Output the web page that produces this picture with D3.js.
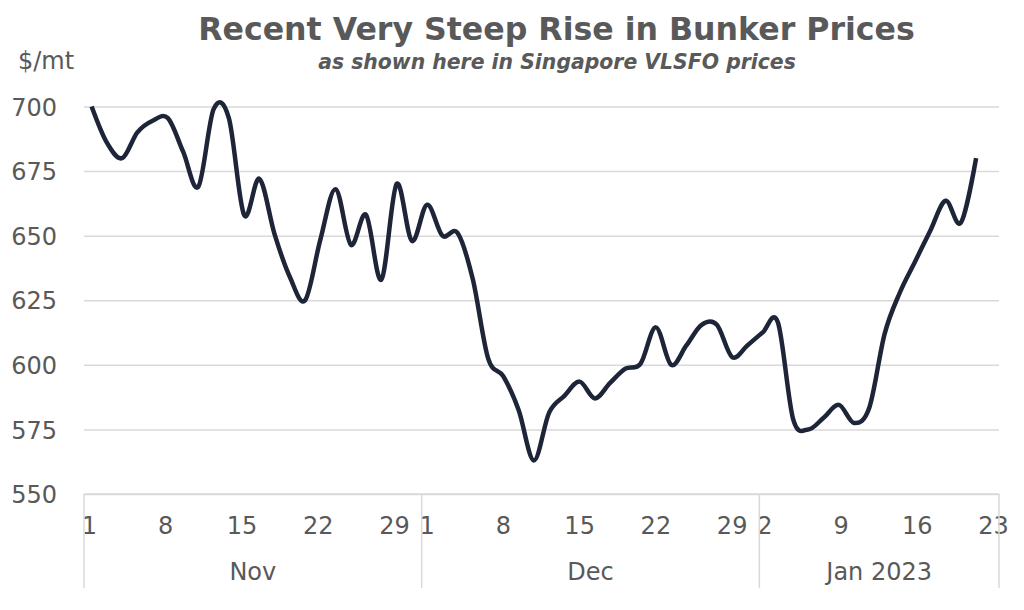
<!DOCTYPE html>
<html>
<head>
<meta charset="utf-8">
<script src="https://cdn.jsdelivr.net/npm/d3@7"></script>
<style>
  html, body { margin: 0; padding: 0; background: #ffffff; }
  svg { display: block; }
  text { font-family: "DejaVu Sans", "Noto Sans", sans-serif; fill: #595959; }
</style>
</head>
<body>
<svg id="chart" width="1024" height="610"></svg>
<script>
// ---- data ----
const titleText = "Recent Very Steep Rise in Bunker Prices";
const subtitleText = "as shown here in Singapore VLSFO prices";
const unitText = "$/mt";

const yTicks = [550, 575, 600, 625, 650, 675, 700];

// month groups of the category axis
const months = ["Nov", "Dec", "Jan 2023"];
const monthSlots = [31, 31, 22];
const monthFirstDay = [1, 1, 2];
const tickDays = [[1, 8, 15, 22, 29], [1, 8, 15, 22, 29], [2, 9, 16, 23]];

// trading days carrying the price series (last slot has no price yet)
const tradeDates = [
  "2022-11-01","2022-11-02","2022-11-03","2022-11-04","2022-11-07","2022-11-08","2022-11-09","2022-11-10","2022-11-11",
  "2022-11-14","2022-11-15","2022-11-16","2022-11-17","2022-11-18","2022-11-21","2022-11-22","2022-11-23","2022-11-24",
  "2022-11-25","2022-11-28","2022-11-29","2022-11-30",
  "2022-12-01","2022-12-02","2022-12-05","2022-12-06","2022-12-07","2022-12-08","2022-12-09","2022-12-12","2022-12-13",
  "2022-12-14","2022-12-15","2022-12-16","2022-12-19","2022-12-20","2022-12-21","2022-12-22","2022-12-23","2022-12-26",
  "2022-12-27","2022-12-28","2022-12-29","2022-12-30",
  "2023-01-02","2023-01-03","2023-01-04","2023-01-05","2023-01-06","2023-01-09","2023-01-10","2023-01-11","2023-01-12",
  "2023-01-13","2023-01-16","2023-01-17","2023-01-18","2023-01-19","2023-01-20","2023-01-23"
];
const prices = [
  700, 686, 680, 690, 694.5, 695.5, 682.5, 669, 699,
  695.5, 658, 672, 650.5, 634, 625, 648.5, 668, 646.5,
  658, 633, 670, 648,
  662, 650, 651, 633, 602.5, 595.5, 582.5, 563, 581.5,
  588, 593.5, 587, 593, 598.5, 600.5, 614.5, 600, 607.5,
  615.5, 615.5, 603, 607.5,
  612.5, 616.5, 579, 575, 579.5, 584.5, 577.5, 583.5, 612,
  628, 640, 652, 663.5, 655, 680
];

// ---- layout ----
const plotLeft = 84, plotRight = 999, plotTop = 106.5, plotBottom = 494;
const gridColor = "#d9d9d9";
const lineColor = "#1e2539";

const svg = d3.select("#chart");

// category axis
const categories = [];
months.forEach((m, mi) => {
  for (let k = 0; k < monthSlots[mi]; k++) {
    categories.push({ key: mi + "-" + (monthFirstDay[mi] + k), month: mi, day: monthFirstDay[mi] + k });
  }
});
const xCat = d3.scaleBand().domain(categories.map(c => c.key)).range([plotLeft, plotRight]).padding(0);
const xLine = d3.scaleBand().domain(tradeDates).range([plotLeft, plotRight]).padding(0);
const y = d3.scaleLinear().domain([550, 700]).range([plotBottom, plotTop]);

// y grid + labels
const yAxis = svg.append("g")
  .attr("transform", `translate(${plotLeft},0)`)
  .call(d3.axisLeft(y).tickValues(yTicks).tickSize(-(plotRight - plotLeft)).tickPadding(27).tickFormat(d3.format("d")));
yAxis.select(".domain").remove();
yAxis.selectAll(".tick line").attr("stroke", gridColor).attr("stroke-width", 1.5);
yAxis.selectAll(".tick text")
  .attr("font-size", 24).attr("fill", "#595959").attr("dy", "0.36em")
  .style("font-family", "DejaVu Sans");

// x axis (day numbers)
const tickKeys = [];
tickDays.forEach((days, mi) => days.forEach(d => tickKeys.push(mi + "-" + d)));
const xAxis = svg.append("g")
  .attr("transform", `translate(0,${plotBottom})`)
  .call(d3.axisBottom(xCat).tickValues(tickKeys).tickSize(0).tickPadding(22.5)
    .tickFormat(k => k.split("-")[1]));
xAxis.select(".domain").remove();
xAxis.selectAll(".tick text").attr("font-size", 24).attr("fill", "#595959").style("font-family", "DejaVu Sans");

// axis baseline
svg.append("line")
  .attr("x1", plotLeft).attr("x2", plotRight)
  .attr("y1", plotBottom).attr("y2", plotBottom)
  .attr("stroke", gridColor).attr("stroke-width", 1.5);

// month separators & labels
const monthStarts = months.map((m, mi) => xCat(mi + "-" + monthFirstDay[mi]));
const bounds = monthStarts.concat([plotRight]);
svg.append("g").selectAll("line").data(bounds).join("line")
  .attr("x1", d => d).attr("x2", d => d)
  .attr("y1", plotBottom).attr("y2", 588)
  .attr("stroke", gridColor).attr("stroke-width", 1.5);
svg.append("g").selectAll("text").data(months).join("text")
  .attr("x", (m, i) => (bounds[i] + bounds[i + 1]) / 2)
  .attr("y", 580)
  .attr("text-anchor", "middle")
  .attr("font-size", 24)
  .text(d => d);

// price line
const series = prices.map((v, i) => ({ date: tradeDates[i], v }));
const line = d3.line()
  .x(d => xLine(d.date) + xLine.bandwidth() / 2)
  .y(d => y(d.v))
  .curve(d3.curveCardinal.tension(0));
svg.append("path")
  .datum(series)
  .attr("d", line)
  .attr("fill", "none")
  .attr("stroke", lineColor)
  .attr("stroke-width", 4.5)
  .attr("stroke-linejoin", "round");

// titles
svg.append("text")
  .attr("x", 556.5).attr("y", 39.5)
  .attr("text-anchor", "middle")
  .attr("font-size", 31.6).attr("font-weight", "bold")
  .text(titleText);
svg.append("text")
  .attr("x", 557).attr("y", 69.3)
  .attr("text-anchor", "middle")
  .attr("font-size", 20.4).attr("font-weight", "bold").attr("font-style", "italic")
  .text(subtitleText);
svg.append("text")
  .attr("x", 18).attr("y", 69.3)
  .attr("font-size", 24)
  .text(unitText);
</script>
</body>
</html>
